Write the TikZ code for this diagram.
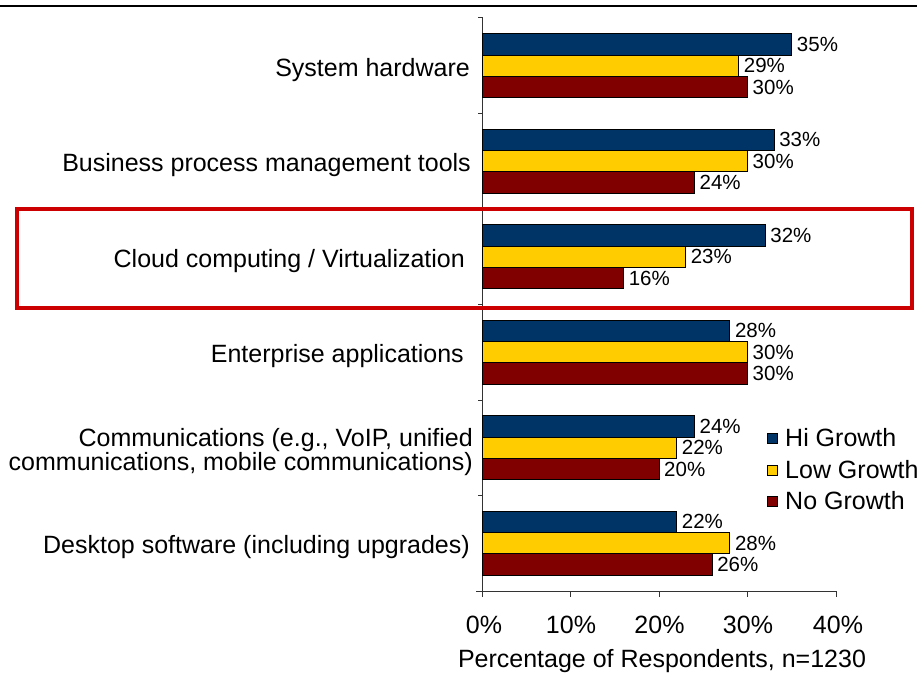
\documentclass[tikz,border=0pt]{standalone}
\usepackage{xcolor}
\usepackage{fontspec}
\setmainfont{Liberation Sans}
\usepackage{tikz}
\usetikzlibrary{positioning}
\definecolor{higrowth}{HTML}{003366}
\definecolor{lowgrowth}{HTML}{FFCC00}
\definecolor{nogrowth}{HTML}{800000}
\definecolor{boxred}{HTML}{CC0000}
\tikzstyle{bar} = [rectangle, draw=black, line width=1pt, inner sep=0pt, outer sep=0pt, minimum height=21.4pt, anchor=west]
\tikzstyle{hibar} = [bar, fill=higrowth]
\tikzstyle{lowbar} = [bar, fill=lowgrowth]
\tikzstyle{nobar} = [bar, fill=nogrowth]
\tikzstyle{pct} = [inner sep=1pt, right=4pt, font=\fontsize{20.5}{22}\selectfont]
\tikzstyle{category} = [anchor=east, align=right, inner sep=0pt, font=\fontsize{25}{24.5}\selectfont]
\tikzstyle{ticklabel} = [inner sep=0pt, font=\fontsize{25}{26}\selectfont]
\tikzstyle{key} = [rectangle, draw=black, line width=1pt, minimum size=10pt, inner sep=0pt]
\tikzstyle{keytext} = [anchor=west, inner sep=0pt, font=\fontsize{25}{26}\selectfont]

\begin{document}
\begin{tikzpicture}[x=1pt, y=-1pt]
	\useasboundingbox (0,0) rectangle (917,676);
	\draw [line width=2.5pt] (0,6) -- (917,6);

	% axes
	\draw [line width=1pt, black!80] (478,18) -- (482,18) -- (482,591) -- (836,591);
	\draw [line width=1pt, black!80] (478,113.5) -- (482,113.5);
	\draw [line width=1pt, black!80] (478,209) -- (482,209);
	\draw [line width=1pt, black!80] (478,304.5) -- (482,304.5);
	\draw [line width=1pt, black!80] (478,400) -- (482,400);
	\draw [line width=1pt, black!80] (478,495.5) -- (482,495.5);
	\draw [line width=1pt, black!80] (476,591) -- (482,591);
	\node (t0) [ticklabel] at (484,625) {0\%};
	\node (t10) [ticklabel] at (571,625) {10\%};
	\node (t20) [ticklabel] at (659.5,625) {20\%};
	\node (t30) [ticklabel] at (748,625) {30\%};
	\node (t40) [ticklabel] at (838,625) {40\%};
	\draw [line width=1pt, black!80] (482,591) -- (482,597);
	\draw [line width=1pt, black!80] (570.5,591) -- (570.5,597);
	\draw [line width=1pt, black!80] (659,591) -- (659,597);
	\draw [line width=1pt, black!80] (747.5,591) -- (747.5,597);
	\draw [line width=1pt, black!80] (836,591) -- (836,597);
	\node (xtitle) [ticklabel] at (662,661) {Percentage of Respondents, n=1230};

	% categories
	\node (hw) [category] at (470,70) {System hardware};
	\node (bpm) [category] at (471,165) {Business process management tools};
	\node (cloud) [category] at (465,261) {Cloud computing / Virtualization};
	\node (ent) [category] at (464,356) {Enterprise applications};
	\node (comm) [category] at (473,452) {Communications (e.g., VoIP, unified\\communications, mobile communications)};
	\node (desk) [category] at (470,547) {Desktop software (including upgrades)};

	% bars
	\node (hwhi) [hibar, minimum width=35*8.85pt] at (482,44.35) {};
	\node (hwlow) [lowbar, minimum width=29*8.85pt] at (482,65.75) {};
	\node (hwno) [nobar, minimum width=30*8.85pt] at (482,87.15) {};
	\node (bpmhi) [hibar, minimum width=33*8.85pt] at (482,139.85) {};
	\node (bpmlow) [lowbar, minimum width=30*8.85pt] at (482,161.25) {};
	\node (bpmno) [nobar, minimum width=24*8.85pt] at (482,182.65) {};
	\node (cloudhi) [hibar, minimum width=32*8.85pt] at (482,235.35) {};
	\node (cloudlow) [lowbar, minimum width=23*8.85pt] at (482,256.75) {};
	\node (cloudno) [nobar, minimum width=16*8.85pt] at (482,278.15) {};
	\node (enthi) [hibar, minimum width=28*8.85pt] at (482,330.85) {};
	\node (entlow) [lowbar, minimum width=30*8.85pt] at (482,352.25) {};
	\node (entno) [nobar, minimum width=30*8.85pt] at (482,373.65) {};
	\node (commhi) [hibar, minimum width=24*8.85pt] at (482,426.35) {};
	\node (commlow) [lowbar, minimum width=22*8.85pt] at (482,447.75) {};
	\node (commno) [nobar, minimum width=20*8.85pt] at (482,469.15) {};
	\node (deskhi) [hibar, minimum width=22*8.85pt] at (482,521.85) {};
	\node (desklow) [lowbar, minimum width=28*8.85pt] at (482,543.25) {};
	\node (deskno) [nobar, minimum width=26*8.85pt] at (482,564.65) {};

	% values
	\node [pct, right=4pt of hwhi] {35\%};
	\node [pct, right=4pt of hwlow] {29\%};
	\node [pct, right=4pt of hwno] {30\%};
	\node [pct, right=4pt of bpmhi] {33\%};
	\node [pct, right=4pt of bpmlow] {30\%};
	\node [pct, right=4pt of bpmno] {24\%};
	\node [pct, right=4pt of cloudhi] {32\%};
	\node [pct, right=4pt of cloudlow] {23\%};
	\node [pct, right=4pt of cloudno] {16\%};
	\node [pct, right=4pt of enthi] {28\%};
	\node [pct, right=4pt of entlow] {30\%};
	\node [pct, right=4pt of entno] {30\%};
	\node [pct, right=4pt of commhi] {24\%};
	\node [pct, right=4pt of commlow] {22\%};
	\node [pct, right=4pt of commno] {20\%};
	\node [pct, right=4pt of deskhi] {22\%};
	\node [pct, right=4pt of desklow] {28\%};
	\node [pct, right=4pt of deskno] {26\%};

	% highlight
	\draw [boxred, line width=4pt] (17,209) rectangle (912,308);

	% legend
	\node (keyhi) [key, fill=higrowth] at (772,438) {};
	\node (keylow) [key, fill=lowgrowth] at (772,470) {};
	\node (keyno) [key, fill=nogrowth] at (772,501) {};
	\node (lhi) [keytext] at (785,438) {Hi Growth};
	\node (llow) [keytext] at (785,470) {Low Growth};
	\node (lno) [keytext] at (785,501) {No Growth};
\end{tikzpicture}
\end{document}
